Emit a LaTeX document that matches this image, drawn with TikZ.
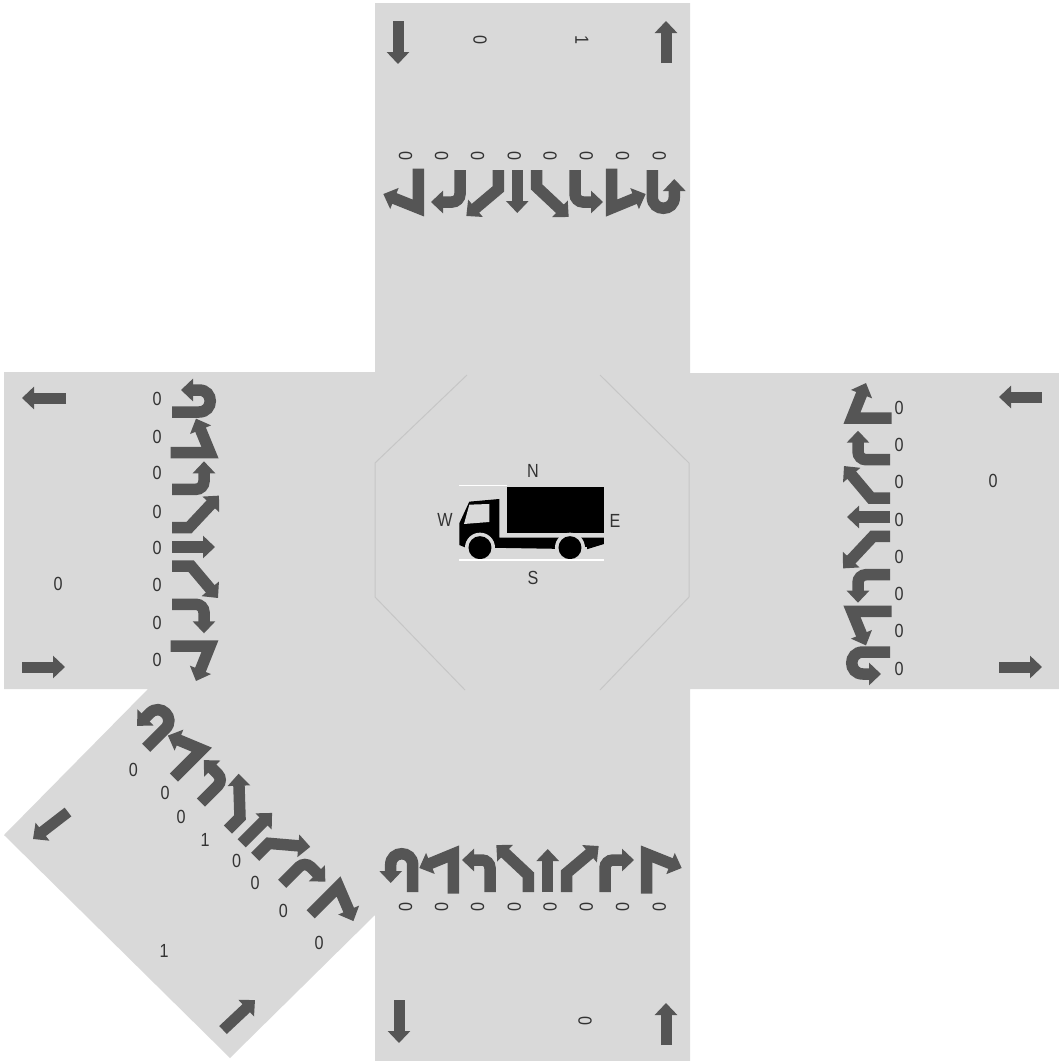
\documentclass[tikz,border=0pt]{standalone}
\usepackage{fontspec}
\setmainfont{Liberation Sans}
\newfontfamily\labfont[FakeStretch=0.85]{Liberation Sans}
\usetikzlibrary{arrows.meta}
\definecolor{pave}{HTML}{D9D9D9}
\definecolor{mark}{HTML}{555555}
\definecolor{edgeline}{HTML}{C6C6C6}
\definecolor{digitcol}{HTML}{333333}
\tikzset{
 lane/.style={draw=mark,line width=11.5pt,miter limit=10,line join=miter,-{Triangle[width=22pt,length=12pt]}},
 flow/.style={draw=mark,line width=11pt,-{Triangle[width=22pt,length=12pt]}},
 digit/.style={font=\labfont\fontsize{19}{19}\selectfont,text=digitcol,inner sep=0pt},
 sidedigit/.style={digit,rotate=90},
 compass/.style={font=\labfont\fontsize{19}{19}\selectfont,text=digitcol,inner sep=0pt},
 laneU/.pic={\draw[lane] (0,0)--(0,-27) .. controls (0,-42) and (-22,-42) .. (-22,-27)--(-22,-9);},
 laneSL/.pic={\draw[lane] (0,1.5)--(0,-38)--(-34,-24);},
 laneL/.pic={\draw[lane] (0,0)--(0,-24) .. controls (0,-28.4) and (-3.6,-32) .. (-8,-32)--(-28,-32);},
 laneBL/.pic={\draw[lane] (0,0)--(0,-17)--(-32,-47);},
 laneS/.pic={\draw[lane] (0,0)--(0,-43);},
 laneBR/.pic={\draw[lane] (0,0)--(0,-19)--(32,-46);},
 laneR/.pic={\draw[lane] (0,0)--(0,-24) .. controls (0,-28.4) and (3.6,-32) .. (8,-32)--(29,-32);},
 laneSR/.pic={\draw[lane] (0,1.5)--(0,-38)--(35,-24);},
}
\newcommand{\lanegroup}{%
 \foreach \o/\t in {-135/laneU,-94.4/laneSL,-57.7/laneL,-19.4/laneBL,0/laneS,19/laneBR,57.3/laneR,99/laneSR}{%
  \pic[transform shape] at (\o,0) {\t};}}
\begin{document}
\begin{tikzpicture}[x=1pt,y=-1pt]
\useasboundingbox (0,0) rectangle (1059,1061);
% pavement
\fill[pave] (375,3) -- (690,3) -- (690,373) -- (1059,373) -- (1059,689) -- (690,689) -- (690,1061) -- (375,1061) -- (375,915) -- (230,1058) -- (4,835) -- (148,689) -- (4,689) -- (4,372) -- (375,372) -- cycle;
% centre octagon
\draw[edgeline,line width=1pt] (467,375) -- (375,463) -- (375,597) -- (465,690);
\draw[edgeline,line width=1pt] (600,375) -- (689,463) -- (689,597) -- (600,690);
% lane arrows
\begin{scope}[shift={(547.7,892)}] \lanegroup \end{scope}
\begin{scope}[shift={(517.3,170)},rotate=180] \lanegroup \end{scope}
\begin{scope}[shift={(172,547)},rotate=-90] \lanegroup \end{scope}
\begin{scope}[shift={(890,517)},rotate=90] \lanegroup \end{scope}
\begin{scope}[shift={(241.7,843.3)},rotate=-45] \lanegroup \end{scope}
% flow arrows
\coordinate (na) at (398,21); \coordinate (nb) at (398,64);
\coordinate (nc) at (666,63); \coordinate (nd) at (666,21);
\coordinate (sa) at (399,1000); \coordinate (sb) at (399,1043);
\coordinate (sc) at (666,1045); \coordinate (sd) at (666,1003);
\coordinate (wa) at (66,398); \coordinate (wb) at (22,398);
\coordinate (wc) at (22,667); \coordinate (wd) at (65,667);
\coordinate (ea) at (1042,397); \coordinate (eb) at (999,397);
\coordinate (ec) at (999,667); \coordinate (ed) at (1042,667);
\coordinate (da) at (68,812); \coordinate (db) at (33,839);
\coordinate (dc) at (223,1030); \coordinate (dd) at (255,1000);
\foreach \p/\q in {na/nb,nc/nd,sa/sb,sc/sd,wa/wb,wc/wd,ea/eb,ec/ed,da/db,dc/dd}{\draw[flow] (\p) -- (\q);}
% digits on north and south arms
\foreach \i/\x in {1/405.7,2/441.7,3/477.7,4/514.3,5/550,6/586.3,7/622.7,8/659.3}{
 \node[sidedigit] (ns\i) at (\x,156) {0};
 \node[sidedigit] (ss\i) at (\x,907) {0};
}
\node[sidedigit] (nq0) at (480,40) {0};
\node[digit,rotate=-90] (nq1) at (582,40) {1};
\node[sidedigit] (sq0) at (585,1021) {0};
% digits on west and east arms
\foreach \i/\y in {1/399,2/436.7,3/473,4/511.7,5/548,6/585,7/622.7,8/660}{
 \node[digit] (ws\i) at (157,\y) {0};
 \node[digit] (es\i) at (899,\y+8.5) {0};
}
\node[digit] (wq) at (58,584) {0};
\node[digit] (eq) at (993,481) {0};
% digits on the diagonal arm
\foreach \i/\x/\y/\v in {1/133.3/770/0,2/165/793.3/0,3/181/816.7/0,4/205/840/1,5/236.7/860.7/0,6/255/882.7/0,7/283.3/910.7/0,8/319/942.7/0}{
 \node[digit] (ds\i) at (\x,\y) {\v};
}
\node[digit] (dq) at (164,950.7) {1};
% truck
\begin{scope}[shift={(370,370)},x=0.3333pt,y=-0.3333pt]
 \fill[black] (411,350) rectangle (702,488);
 \fill[black] (268,460) -- (298,395) -- (388,387) -- (388,503) -- (702,503) -- (702,522) -- (650,538) -- (285,532) -- (268,525) -- cycle;
 \fill[pave] (298,404) -- (358,402) -- (358,456) -- (282,462) -- cycle;
 \fill[pave] (330,533) circle[radius=15pt];
 \fill[pave] (600,533) circle[radius=15pt];
 \fill[pave] (285,532) rectangle (375,560);
 \fill[pave] (555,532) rectangle (650,560);
 \fill[black] (330,533) circle[radius=11.5pt];
 \fill[black] (600,533) circle[radius=11.5pt];
 \draw[white,line width=1.2pt] (268,346) -- (411,346);
 \draw[white,line width=1.2pt] (268,570) -- (702,570);
\end{scope}
\node[compass] (north) at (533,471) {N};
\node[compass] (south) at (533,578) {S};
\node[compass] (west) at (445,520) {W};
\node[compass] (east) at (615,521) {E};
\end{tikzpicture}
\end{document}
